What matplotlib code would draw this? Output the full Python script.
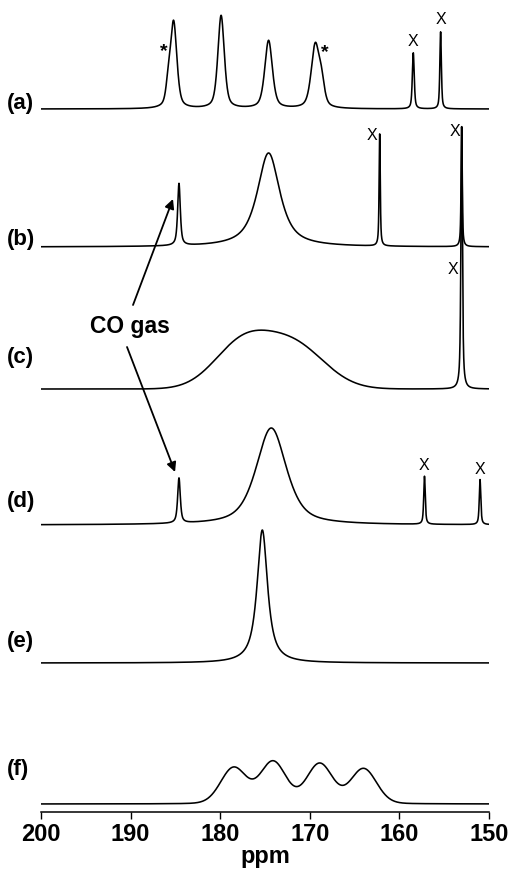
import numpy as np
import matplotlib
matplotlib.use("Agg")
import matplotlib.pyplot as plt
import matplotlib.transforms as mtransforms

plt.rcParams['font.family'] = ['Liberation Sans', 'DejaVu Sans']

# peak tables (ppm, height, fwhm, lorentz fraction)
a_pos = [185.8, 185.2, 179.9, 174.6, 169.4, 168.7, 158.45, 155.4]
a_height = [18, 86, 93, 68, 62, 22, 56, 77]
a_fwhm = [0.6, 0.85, 0.85, 1.0, 1.05, 0.8, 0.25, 0.2]
a_eta = [0.5, 0.5, 0.5, 0.5, 0.5, 0.5, 0.6, 0.6]

b_pos = [184.6, 174.6, 162.2, 153.05]
b_height = [62, 94, 112, 120]
b_fwhm = [0.35, 3.0, 0.15, 0.15]
b_eta = [0.7, 0.8, 0.7, 0.7]

c_pos = [177.6, 171.8, 153.05]
c_height = [43, 43, 262]
c_fwhm = [7.4, 8.2, 0.2]
c_eta = [0.0, 0.0, 0.7]

d_pos = [184.6, 174.3, 157.2, 151.0]
d_height = [45, 97, 48, 45]
d_fwhm = [0.35, 4.0, 0.2, 0.2]
d_eta = [0.7, 0.6, 0.7, 0.7]

e_pos = [175.3]
e_height = [133]
e_fwhm = [1.4]
e_eta = [0.9]

f_pos = [178.5, 174.1, 168.9, 164.0]
f_height = [36, 42, 40, 35]
f_fwhm = [3.4, 3.4, 3.4, 3.4]
f_eta = [0.1, 0.1, 0.1, 0.1]

trace_labels = ['(a)', '(b)', '(c)', '(d)', '(e)', '(f)']
ppm_ticks = [200, 190, 180, 170, 160, 150]

# layout: one y unit == one pixel
baselines = [703, 565, 423, 287, 149, 8]
label_y = [709, 572, 454, 310, 170, 42]


def pvoigt(x, pos, height, fwhm, eta):
    y = np.zeros_like(x)
    for p, h, w, e in zip(pos, height, fwhm, eta):
        u = (x - p) / w
        lor = 1.0 / (1.0 + 4.0 * u ** 2)
        gau = np.exp(-4.0 * np.log(2) * u ** 2)
        y += h * (e * lor + (1 - e) * gau)
    return y


ppm = np.linspace(200, 150, 5001)
spectra = [
    (a_pos, a_height, a_fwhm, a_eta),
    (b_pos, b_height, b_fwhm, b_eta),
    (c_pos, c_height, c_fwhm, c_eta),
    (d_pos, d_height, d_fwhm, d_eta),
    (e_pos, e_height, e_fwhm, e_eta),
    (f_pos, f_height, f_fwhm, f_eta),
]

fig = plt.figure(figsize=(5.11, 8.73), dpi=100)
ax = fig.add_axes([41 / 511, 61 / 873, 448 / 511, 812 / 873])

for (pos, hgt, wid, eta), base in zip(spectra, baselines):
    ax.plot(ppm, base + pvoigt(ppm, pos, hgt, wid, eta), color='k', lw=1.15)

ax.set_xlim(200, 150)
ax.set_ylim(0, 812)
for s in ['top', 'right', 'left']:
    ax.spines[s].set_visible(False)
ax.spines['bottom'].set_linewidth(1.1)
ax.set_yticks([])
ax.set_xticks(ppm_ticks)
ax.tick_params(axis='x', direction='out', length=5, width=1.0, pad=3,
               labelsize=17)
for t in ax.get_xticklabels():
    t.set_fontweight('bold')
ax.set_xlabel('ppm', fontsize=17, fontweight='bold', labelpad=-1)

# trace labels at the left edge
trans = mtransforms.blended_transform_factory(fig.transFigure, ax.transData)
for lab, y in zip(trace_labels, label_y):
    ax.text(7 / 511, y, lab, transform=trans, fontsize=16,
            fontweight='bold', ha='left', va='center')

# impurity markers and spinning sidebands
x_marks = [(158.5, 770), (155.35, 793), (163.06, 677), (153.8, 681),
           (154.0, 542), (157.25, 346), (151.0, 342)]
for x, y in x_marks:
    ax.text(x, y, 'X', fontsize=11.5, ha='center', va='center')
for x, y in [(186.27, 760), (168.3, 759)]:
    ax.text(x, y, '*', fontsize=14, fontweight='bold', ha='center',
            va='center')

ax.text(190.07, 485, 'CO gas', fontsize=16.5, fontweight='bold',
        ha='center', va='center')
arrow = dict(arrowstyle='-|>', color='k', lw=1.3, mutation_scale=14,
             shrinkA=0, shrinkB=0)
ax.annotate('', xy=(185.27, 613), xytext=(189.73, 507), arrowprops=arrow)
ax.annotate('', xy=(185.04, 340), xytext=(190.4, 465), arrowprops=arrow)

plt.savefig('out.png', dpi=100)
plt.close('all')
